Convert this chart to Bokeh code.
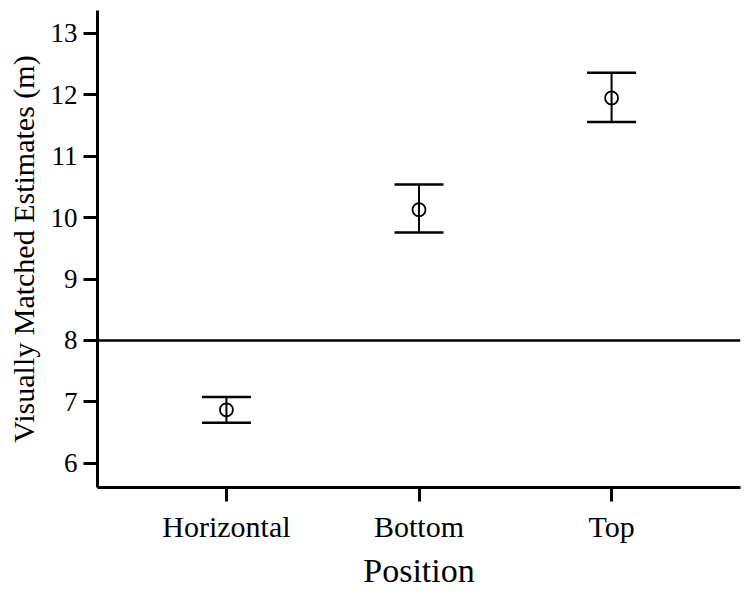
from bokeh.plotting import figure
from bokeh.models import ColumnDataSource, Whisker, TeeHead, Span, FactorRange, FixedTicker
from bokeh.embed import file_html
from bokeh.resources import INLINE

positions = ["Horizontal", "Bottom", "Top"]
means = [6.87, 10.13, 11.95]
upper = [7.08, 10.54, 12.36]
lower = [6.66, 9.76, 11.56]
y_ticks = [6, 7, 8, 9, 10, 11, 12, 13]
reference_line = 8

src = ColumnDataSource(dict(x=positions, mean=means, upper=upper, lower=lower))

FONT = "Liberation Serif"
p = figure(width=742, height=592, output_backend="svg", toolbar_location=None,
           x_range=FactorRange(*positions, range_padding=0.113, range_padding_units="percent"),
           y_range=(5.605, 13.374))
p.min_border_left = 97
p.min_border_top = 10
p.min_border_right = 2
p.min_border_bottom = 105
p.outline_line_color = None
p.xgrid.visible = False
p.ygrid.visible = False

w = Whisker(base="x", upper="upper", lower="lower", source=src, dimension="height",
            line_color="black", line_width=2,
            upper_head=TeeHead(size=49, line_width=2.5, line_color="black"),
            lower_head=TeeHead(size=49, line_width=2.5, line_color="black"))
p.add_layout(w)

p.scatter("x", "mean", source=src, marker="circle", size=13, fill_alpha=0,
          line_color="black", line_width=1.8)

p.add_layout(Span(location=reference_line, dimension="width", line_color="black", line_width=2.6))

p.yaxis.ticker = FixedTicker(ticks=y_ticks)
for ax in (p.xaxis[0], p.yaxis[0]):
    ax.axis_line_width = 3
    ax.major_tick_line_width = 3
    ax.minor_tick_line_color = None
    ax.major_tick_in = 0
    ax.major_tick_out = 14
    ax.major_label_text_font = FONT
    ax.major_label_text_color = "black"
    ax.axis_label_text_font = FONT
    ax.axis_label_text_font_style = "normal"
    ax.axis_label_text_color = "black"

p.yaxis.axis_label = "Visually Matched Estimates (m)"
p.yaxis.axis_label_text_font_size = "30px"
p.yaxis.major_label_text_font_size = "27px"
p.yaxis.major_label_standoff = 6
p.yaxis.axis_label_standoff = 8
p.xaxis.axis_label = "Position"
p.xaxis.axis_label_text_font_size = "34px"
p.xaxis.major_label_text_font_size = "30px"
p.xaxis.major_label_standoff = 8
p.xaxis.axis_label_standoff = 6

open("out.html", "w").write(file_html(p, INLINE))
